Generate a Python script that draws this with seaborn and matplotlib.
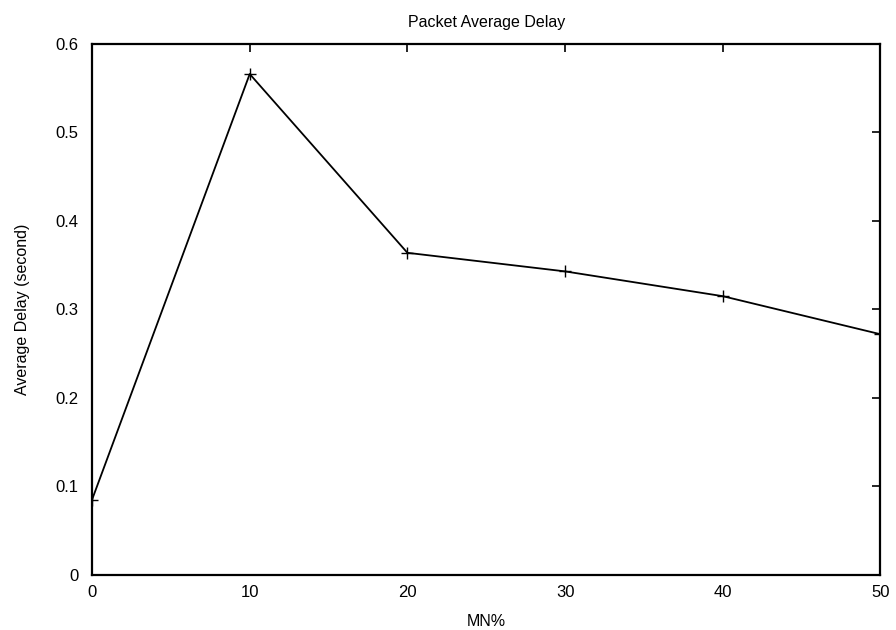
import matplotlib
matplotlib.use("Agg")
import matplotlib.pyplot as plt
import seaborn as sns
import pandas as pd

mn_percent = [0, 10, 20, 30, 40, 50]
avg_delay = [0.085, 0.566, 0.364, 0.343, 0.315, 0.272]
x_ticks = [0, 10, 20, 30, 40, 50]
y_ticks = [0, 0.1, 0.2, 0.3, 0.4, 0.5, 0.6]
y_tick_labels = ["0", "0.1", "0.2", "0.3", "0.4", "0.5", "0.6"]

sns.set_theme(style="white")
plt.rcParams['font.family'] = ['Liberation Sans', 'DejaVu Sans']
plt.rcParams['xtick.direction'] = 'in'
plt.rcParams['ytick.direction'] = 'in'

df = pd.DataFrame({"MN%": mn_percent, "delay": avg_delay})

fig = plt.figure(figsize=(8.96, 6.3), dpi=100)
ax = fig.add_axes([0.1027, 0.0873, 0.880, 0.843])
sns.lineplot(data=df, x="MN%", y="delay", ax=ax, color="black", linewidth=1.3,
             marker="+", markersize=8, markeredgewidth=1.0, markeredgecolor="black")

ax.set_xlim(0, 50)
ax.set_ylim(0, 0.6)
ax.set_xticks(x_ticks)
ax.set_xticklabels([str(v) for v in x_ticks])
ax.set_yticks(y_ticks)
ax.set_yticklabels(y_tick_labels)
ax.tick_params(axis="both", which="major", direction="in", length=6, width=1.2,
               top=True, right=True, labelsize=12, colors="black")
ax.tick_params(axis="x", pad=7)
ax.tick_params(axis="y", pad=10)
for s in ax.spines.values():
    s.set_color("black")
    s.set_linewidth(1.6)
    s.set_visible(True)

ax.set_xlabel("MN%", fontsize=11.5, color="black", labelpad=10)
ax.set_ylabel("Average Delay (second)", fontsize=11.5, color="black", labelpad=18)
ax.set_title("Packet Average Delay", fontsize=11.5, color="black", pad=12)

fig.savefig("out.png", dpi=100)
